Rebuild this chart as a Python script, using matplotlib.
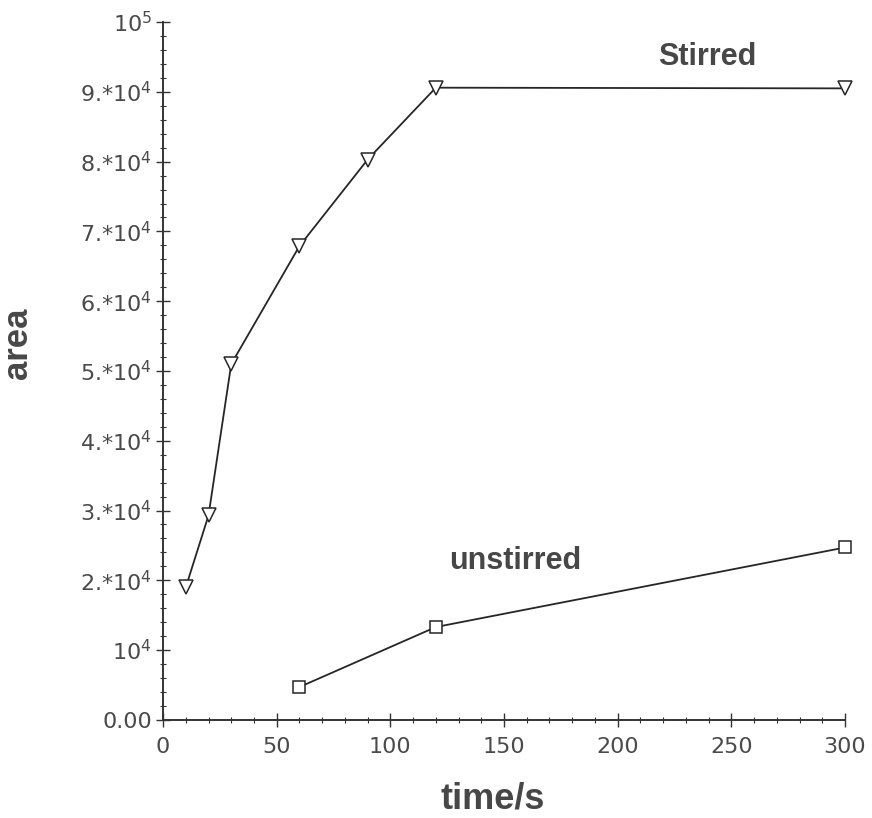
import numpy as np
import matplotlib.pyplot as plt
from matplotlib.ticker import MultipleLocator, FixedLocator

# data
t_stirred = [10, 20, 30, 60, 90, 120, 300]
area_stirred = [19000, 29300, 51000, 67900, 80300, 90600, 90500]
t_unstirred = [60, 120, 300]
area_unstirred = [4700, 13300, 24700]

yticks = [0, 1e4, 2e4, 3e4, 4e4, 5e4, 6e4, 7e4, 8e4, 9e4, 1e5]
ytick_labels = ['0.00', r'10$^4$'] + [r'%d.*10$^4$' % k for k in range(2, 10)] + [r'10$^5$']
xticks = [0, 50, 100, 150, 200, 250, 300]

fig = plt.figure(figsize=(8.72, 8.18), dpi=100)
ax = fig.add_axes([0.187, 0.12, 0.782, 0.853])

line_col = '#262626'
ax.plot(t_stirred, area_stirred, color=line_col, lw=1.3, marker='v', ms=10,
        mfc='white', mec=line_col, mew=1.1, clip_on=False)
ax.plot(t_unstirred, area_unstirred, color=line_col, lw=1.3, marker='s', ms=9,
        mfc='white', mec=line_col, mew=1.1, clip_on=False)

ax.set_xlim(0, 300)
ax.set_ylim(0, 1e5)
ax.spines['top'].set_visible(False)
ax.spines['right'].set_visible(False)
for s in ['left', 'bottom']:
    ax.spines[s].set_color('#333333')
    ax.spines[s].set_linewidth(1.4)

ax.xaxis.set_major_locator(FixedLocator(xticks))
ax.xaxis.set_minor_locator(MultipleLocator(10))
ax.yaxis.set_major_locator(FixedLocator(yticks))
ax.yaxis.set_minor_locator(MultipleLocator(2000))
ax.set_yticklabels(ytick_labels)
ax.tick_params(which='major', direction='inout', length=10, width=1, color='#333333',
               labelsize=16, labelcolor='#4a4a4a')
ax.tick_params(axis='x', which='major', pad=7)
ax.tick_params(axis='y', which='major', pad=3)
ax.tick_params(which='minor', direction='inout', length=5, width=0.8, color='#333333')

ax.set_xlabel('time/s', fontsize=26, fontweight='bold', color='#474747',
              family='Liberation Sans')
ax.xaxis.set_label_coords(0.484, -0.088)
ax.set_ylabel('area', fontsize=25, fontweight='bold', color='#474747',
              family='Liberation Sans')
ax.yaxis.set_label_coords(-0.19, 0.539)

ax.text(0.798, 0.95, 'Stirred', transform=ax.transAxes, ha='center', va='center',
        fontsize=22, fontweight='bold', color='#474747', family='Liberation Sans')
ax.text(0.516, 0.227, 'unstirred', transform=ax.transAxes, ha='center', va='center',
        fontsize=22, fontweight='bold', color='#474747', family='Liberation Sans')

fig.savefig('out.png', dpi=100, facecolor='white')
